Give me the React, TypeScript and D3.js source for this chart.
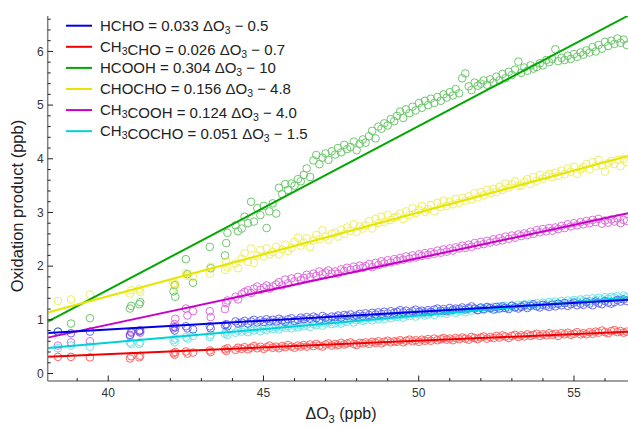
import React from "react";
import * as d3 from "d3";

// ---------- data ----------
const xSparse = [38.38, 38.80, 39.41, 40.70, 40.74, 41.00, 41.03, 42.10, 42.14, 42.16, 42.50, 42.55, 42.73, 43.27, 43.30, 43.76, 43.80, 43.84, 44.10, 44.18];
const xDense = [
  44.30, 44.39, 44.50, 44.60, 44.69, 44.80, 44.90, 45.01, 45.10, 45.19,
  45.30, 45.41, 45.50, 45.60, 45.70, 45.79, 45.90, 46.00, 46.11, 46.20,
  46.30, 46.39, 46.50, 46.61, 46.70, 46.80, 46.90, 47.00, 47.09, 47.20,
  47.31, 47.40, 47.50, 47.60, 47.69, 47.80, 47.91, 48.00, 48.10, 48.20,
  48.29, 48.40, 48.50, 48.61, 48.70, 48.80, 48.89, 49.00, 49.10, 49.21,
  49.30, 49.40, 49.50, 49.59, 49.70, 49.80, 49.90, 50.01, 50.10, 50.20,
  50.30, 50.39, 50.50, 50.60, 50.71, 50.80, 50.90, 51.00, 51.10, 51.19,
  51.30, 51.40, 51.50, 51.61, 51.70, 51.80, 51.90, 52.00, 52.09, 52.20,
  52.30, 52.41, 52.50, 52.60, 52.70, 52.79, 52.90, 53.00, 53.10, 53.21,
  53.30, 53.40, 53.50, 53.60, 53.69, 53.80, 53.90, 54.00, 54.11, 54.20,
  54.30, 54.40, 54.49, 54.60, 54.70, 54.80, 54.90, 55.00, 55.10, 55.21,
  55.30, 55.40, 55.50, 55.60, 55.70, 55.79, 55.90, 56.00, 56.10, 56.20,
  56.30, 56.40, 56.50, 56.60, 56.70,
];
const deltaO3 = [...xSparse, ...xDense];

const hcho = [
  0.78, 0.75, 0.78, 0.72, 0.76, 0.78, 0.80, 0.84, 0.80, 0.86, 0.88, 0.84, 0.82, 0.88, 0.84, 0.90, 0.92, 0.88, 0.97, 0.93,
  0.95, 0.98, 0.93, 0.97, 1.00, 0.95, 0.99, 0.96, 1.01, 0.97,
  1.00, 0.97, 1.02, 0.99, 0.96, 1.01, 1.03, 0.98, 1.00, 1.04,
  1.01, 1.05, 1.02, 1.06, 1.03, 1.00, 1.07, 1.04, 1.02, 1.06,
  1.05, 1.08, 1.04, 1.09, 1.07, 1.10, 1.06, 1.08, 1.11, 1.07,
  1.12, 1.09, 1.13, 1.10, 1.14, 1.11, 1.15, 1.12, 1.16, 1.13,
  1.15, 1.18, 1.14, 1.17, 1.13, 1.16, 1.19, 1.15, 1.17, 1.14,
  1.18, 1.15, 1.19, 1.21, 1.17, 1.20, 1.16, 1.22, 1.19, 1.21,
  1.20, 1.23, 1.19, 1.22, 1.25, 1.21, 1.18, 1.23, 1.20, 1.24,
  1.22, 1.19, 1.24, 1.21, 1.25, 1.22, 1.20, 1.26, 1.23, 1.21,
  1.24, 1.27, 1.22, 1.26, 1.29, 1.25, 1.23, 1.28, 1.26, 1.24,
  1.28, 1.25, 1.30, 1.27, 1.31, 1.26, 1.29, 1.32, 1.27, 1.30,
  1.28, 1.33, 1.30, 1.27, 1.34, 1.31, 1.29, 1.35, 1.32, 1.30,
  1.33, 1.37, 1.34, 1.38, 1.35,
];
const ch3cho = [
  0.31, 0.31, 0.30, 0.28, 0.32, 0.30, 0.33, 0.38, 0.35, 0.40, 0.41, 0.37, 0.39, 0.43, 0.40, 0.45, 0.42, 0.47, 0.44, 0.48,
  0.46, 0.49, 0.45, 0.48, 0.51, 0.47, 0.50, 0.46, 0.49, 0.52,
  0.48, 0.50, 0.47, 0.51, 0.49, 0.53, 0.50, 0.48, 0.52, 0.50,
  0.53, 0.50, 0.54, 0.51, 0.55, 0.52, 0.50, 0.54, 0.56, 0.52,
  0.55, 0.53, 0.57, 0.54, 0.56, 0.58, 0.55, 0.53, 0.57, 0.56,
  0.58, 0.55, 0.59, 0.57, 0.60, 0.56, 0.59, 0.61, 0.58, 0.60,
  0.59, 0.62, 0.58, 0.61, 0.63, 0.60, 0.62, 0.59, 0.63, 0.61,
  0.64, 0.61, 0.65, 0.62, 0.64, 0.66, 0.63, 0.65, 0.62, 0.66,
  0.64, 0.67, 0.65, 0.63, 0.68, 0.66, 0.64, 0.67, 0.69, 0.65,
  0.68, 0.66, 0.70, 0.67, 0.71, 0.69, 0.66, 0.70, 0.72, 0.68,
  0.71, 0.69, 0.73, 0.70, 0.72, 0.74, 0.70, 0.73, 0.71, 0.75,
  0.72, 0.74, 0.70, 0.75, 0.73, 0.76, 0.72, 0.74, 0.77, 0.73,
  0.75, 0.73, 0.77, 0.74, 0.78, 0.76, 0.80, 0.77, 0.75, 0.79,
  0.81, 0.77, 0.79, 0.76, 0.78,
];
const hcooh = [
  0.78, 0.93, 1.03, 1.21, 1.26, 1.29, 1.33, 1.53, 1.65, 1.43, 2.13, 1.85, 1.69, 2.36, 1.96, 2.20, 2.43, 2.62, 2.76, 2.65,
  2.70, 2.92, 2.80, 3.20, 2.83, 3.08, 2.95, 3.12, 2.71, 3.02,
  3.17, 2.98, 3.46, 3.34, 3.53, 3.42, 3.54, 3.50, 3.62, 3.58,
  3.70, 3.82, 3.66, 3.97, 4.07, 3.90, 4.02, 4.10, 3.98, 4.14,
  4.08, 4.20, 4.12, 4.26, 4.18, 4.22, 4.32, 4.16, 4.28, 4.36,
  4.30, 4.42, 4.52, 4.38, 4.60, 4.56, 4.66, 4.62, 4.74, 4.70,
  4.80, 4.88, 4.76, 4.92, 4.85, 4.97, 4.90, 5.04, 4.95, 5.08,
  5.00, 5.12, 5.04, 5.15, 5.08, 5.20, 5.14, 5.24, 5.18, 5.30,
  5.22, 5.50, 5.59, 5.35, 5.28, 5.42, 5.36, 5.40, 5.46, 5.38,
  5.48, 5.42, 5.53, 5.46, 5.58, 5.50, 5.62, 5.56, 5.66, 5.81,
  5.60, 5.70, 5.64, 5.74, 5.68, 5.71, 5.78, 5.74, 5.84, 5.80,
  5.86, 6.04, 5.82, 5.88, 5.84, 5.92, 5.86, 5.95, 5.90, 5.98,
  5.94, 6.02, 5.98, 6.08, 6.00, 6.12, 6.05, 6.18, 6.10, 6.20,
  6.14, 6.24, 6.16, 6.22, 6.12,
];
const chocho = [
  1.35, 1.38, 1.47, 1.49, 1.55, 1.57, 1.52, 1.68, 1.62, 1.66, 1.87, 1.82, 1.80, 1.86, 1.99, 1.93, 2.08, 1.98, 2.05, 1.96,
  2.14, 2.24, 2.08, 2.33, 2.06, 2.20, 2.30, 2.18, 2.33, 2.22,
  2.26, 2.36, 2.22, 2.31, 2.40, 2.28, 2.34, 2.45, 2.53, 2.38,
  2.44, 2.52, 2.35, 2.48, 2.58, 2.50, 2.67, 2.55, 2.49, 2.60,
  2.62, 2.55, 2.68, 2.60, 2.72, 2.66, 2.78, 2.64, 2.74, 2.70,
  2.76, 2.84, 2.70, 2.88, 2.80, 2.92, 2.82, 2.95, 2.86, 2.90,
  2.92, 2.98, 2.88, 3.02, 2.95, 3.08, 2.99, 3.05, 3.12, 3.01,
  3.06, 3.14, 3.02, 3.18, 3.10, 3.22, 3.12, 3.20, 3.15, 3.25,
  3.18, 3.27, 3.22, 3.30, 3.24, 3.36, 3.28, 3.38, 3.32, 3.42,
  3.36, 3.44, 3.38, 3.48, 3.42, 3.54, 3.46, 3.52, 3.58, 3.49,
  3.50, 3.57, 3.62, 3.53, 3.66, 3.59, 3.70, 3.63, 3.68, 3.72,
  3.66, 3.74, 3.68, 3.78, 3.71, 3.82, 3.76, 3.85, 3.72, 3.80,
  3.84, 3.90, 3.80, 3.94, 3.86, 3.98, 3.88, 3.76, 3.92, 3.96,
  3.90, 3.98, 3.86, 4.00, 3.94,
];
const ch3cooh = [
  0.52, 0.58, 0.60, 0.70, 0.78, 0.80, 0.76, 0.87, 0.92, 1.02, 1.21, 1.08, 1.16, 1.16, 1.05, 1.20, 1.31, 1.36, 1.43, 1.38,
  1.48, 1.52, 1.55, 1.50, 1.58, 1.62, 1.56, 1.60, 1.64, 1.58,
  1.62, 1.66, 1.70, 1.64, 1.75, 1.68, 1.77, 1.72, 1.80, 1.74,
  1.78, 1.84, 1.80, 1.86, 1.82, 1.90, 1.85, 1.88, 1.92, 1.86,
  1.90, 1.86, 1.94, 1.91, 1.97, 1.93, 1.99, 1.95, 2.01, 1.97,
  2.00, 2.04, 1.98, 2.06, 2.02, 2.09, 2.05, 2.11, 2.07, 2.13,
  2.10, 2.15, 2.12, 2.18, 2.14, 2.20, 2.16, 2.22, 2.19, 2.24,
  2.21, 2.26, 2.23, 2.29, 2.25, 2.31, 2.27, 2.33, 2.29, 2.35,
  2.33, 2.38, 2.34, 2.40, 2.36, 2.43, 2.39, 2.45, 2.41, 2.47,
  2.44, 2.50, 2.46, 2.52, 2.48, 2.55, 2.51, 2.57, 2.53, 2.59,
  2.56, 2.61, 2.58, 2.64, 2.60, 2.67, 2.63, 2.69, 2.65, 2.71,
  2.66, 2.72, 2.69, 2.75, 2.71, 2.78, 2.74, 2.80, 2.76, 2.82,
  2.78, 2.84, 2.80, 2.86, 2.82, 2.88, 2.79, 2.85, 2.81, 2.87,
  2.83, 2.89, 2.80, 2.86, 2.84,
];
const ch3cocho = [
  0.47, 0.52, 0.50, 0.58, 0.55, 0.55, 0.58, 0.62, 0.58, 0.65, 0.68, 0.65, 0.70, 0.68, 0.72, 0.74, 0.78, 0.72, 0.76, 0.80,
  0.78, 0.81, 0.77, 0.82, 0.80, 0.84, 0.79, 0.83, 0.81, 0.85,
  0.83, 0.86, 0.82, 0.87, 0.85, 0.88, 0.84, 0.89, 0.86, 0.90,
  0.88, 0.91, 0.87, 0.92, 0.90, 0.94, 0.89, 0.93, 0.95, 0.92,
  0.94, 0.97, 0.93, 0.98, 0.96, 1.00, 0.95, 0.99, 1.01, 0.98,
  1.00, 1.03, 0.99, 1.04, 1.01, 1.05, 1.02, 1.06, 1.03, 1.07,
  1.05, 1.08, 1.04, 1.09, 1.07, 1.11, 1.06, 1.10, 1.12, 1.08,
  1.10, 1.13, 1.09, 1.14, 1.12, 1.16, 1.11, 1.15, 1.17, 1.13,
  1.16, 1.19, 1.14, 1.20, 1.17, 1.21, 1.18, 1.22, 1.19, 1.23,
  1.21, 1.24, 1.20, 1.25, 1.22, 1.26, 1.23, 1.27, 1.24, 1.28,
  1.26, 1.29, 1.25, 1.30, 1.27, 1.31, 1.28, 1.32, 1.29, 1.33,
  1.31, 1.34, 1.30, 1.35, 1.32, 1.36, 1.33, 1.37, 1.34, 1.38,
  1.36, 1.39, 1.35, 1.40, 1.37, 1.41, 1.38, 1.42, 1.39, 1.43,
  1.41, 1.44, 1.40, 1.45, 1.42,
];

// legend: species name parts (text, subscript) and equations as printed
const legendNames: [string, string][][] = [
  [["HCHO", ""]],
  [["CH", "3"], ["CHO", ""]],
  [["HCOOH", ""]],
  [["CHOCHO", ""]],
  [["CH", "3"], ["COOH", ""]],
  [["CH", "3"], ["COCHO", ""]],
];
const legendSlopes = ["0.033", "0.026", "0.304", "0.156", "0.124", "0.051"];
const legendIntercepts = ["0.5", "0.7", "10", "4.8", "4.0", "1.5"];
// fitted lines as drawn in the figure
const fitSlope = [0.033, 0.025, 0.305, 0.156, 0.124, 0.0508];
const fitIntercept = [-0.5, -0.64, -10.64, -4.8, -4.05, -1.46];

const seriesValues = [hcho, ch3cho, hcooh, chocho, ch3cooh, ch3cocho];
const lineColors = ["#0000e8", "#f00000", "#00a800", "#e6e600", "#c800c8", "#00d0d8"];
const pointColors = ["#3030f0", "#ff2020", "#30b030", "#e8e820", "#d030d0", "#30d8e0"];

const xTicks = [40, 45, 50, 55];
const yTicks = [0, 1, 2, 3, 4, 5, 6];

const W = 628, H = 428;
const FONT = "'Liberation Sans', Arial, Helvetica, sans-serif";

export default function App() {
  const x = d3.scaleLinear().domain([38.05, 56.74]).range([47.7, 628]);
  const y = d3.scaleLinear().domain([-0.14, 6.66]).range([381, 16]);
  const [x0, x1] = x.domain();
  const minorX = d3.range(38, 57, 1).filter((v) => v >= x0 && v <= x1 && v % 5 !== 0);
  const minorY = d3.range(0, 6.7, 0.2).map((v) => Math.round(v * 10) / 10).filter((v) => Math.abs(v - Math.round(v)) > 1e-6 && v <= 6.66);
  const line = d3.line<[number, number]>().x((d) => x(d[0])).y((d) => y(d[1]));
  const drawOrder = [2, 3, 4, 5, 0, 1];

  return (
    <div style={{ position: "fixed", left: 0, top: 0 }}>
      <svg width={W} height={H} style={{ display: "block", background: "#fff" }} fontFamily={FONT}>
        <defs>
          <clipPath id="plot">
            <rect x={47.7} y={16} width={628 - 47.7} height={381 - 16} />
          </clipPath>
        </defs>
        <g clipPath="url(#plot)">
          {drawOrder.map((s) => (
            <g key={"p" + s} fill="none" stroke={pointColors[s]} strokeWidth={1} opacity={0.7}>
              {seriesValues[s].map((v, i) =>
                i < deltaO3.length ? <circle key={i} cx={x(deltaO3[i])} cy={y(v)} r={3.8} /> : null
              )}
            </g>
          ))}
          {drawOrder.map((s) => (
            <path
              key={"l" + s}
              d={line([
                [x0, fitSlope[s] * x0 + fitIntercept[s]],
                [x1, fitSlope[s] * x1 + fitIntercept[s]],
              ]) || ""}
              fill="none"
              stroke={lineColors[s]}
              strokeWidth={2}
            />
          ))}
        </g>
        {/* axes */}
        <line x1={47.7} x2={628} y1={381} y2={381} stroke="#808080" strokeWidth={1.5} />
        <line x1={47.7} x2={47.7} y1={16} y2={381} stroke="#808080" strokeWidth={1.5} />
        {xTicks.map((t) => (
          <g key={"xt" + t}>
            <line x1={x(t)} x2={x(t)} y1={381} y2={375.5} stroke="#222" strokeWidth={1} />
            <text x={x(t)} y={396.5} textAnchor="middle" fontSize={12} fill="#333">{t}</text>
          </g>
        ))}
        {minorX.map((t) => (
          <line key={"xm" + t} x1={x(t)} x2={x(t)} y1={381} y2={378} stroke="#222" strokeWidth={1} />
        ))}
        {yTicks.map((t) => (
          <g key={"yt" + t}>
            <line x1={47.7} x2={53} y1={y(t)} y2={y(t)} stroke="#222" strokeWidth={1} />
            <text x={43.8} y={y(t) + 4.2} textAnchor="end" fontSize={12} fill="#333">{t}</text>
          </g>
        ))}
        {minorY.map((t) => (
          <line key={"ym" + t} x1={47.7} x2={50.7} y1={y(t)} y2={y(t)} stroke="#222" strokeWidth={1} />
        ))}
        {/* axis titles */}
        <text x={341} y={419} textAnchor="middle" fontSize={16} fill="#222">
          ΔO<tspan fontSize={11} dy={3.5}>3</tspan><tspan dy={-3.5}> (ppb)</tspan>
        </text>
        <text transform="translate(23,206) rotate(-90)" textAnchor="middle" fontSize={16.5} fill="#222">
          Oxidation product (ppb)
        </text>
        {/* legend */}
        {legendNames.map((parts, i) => {
          const cy = 25.7 + i * 21.1;
          return (
            <g key={"lg" + i}>
              <line x1={66} x2={92} y1={cy} y2={cy} stroke={lineColors[i]} strokeWidth={2} />
              <text x={100} y={cy + 5.2} fontSize={15} fill="#222">
                {parts.map(([t, sub], j) => (
                  <React.Fragment key={j}>
                    <tspan>{t}</tspan>
                    {sub ? <tspan fontSize={10.5} dy={3}>{sub}</tspan> : null}
                    {sub ? <tspan dy={-3}></tspan> : null}
                  </React.Fragment>
                ))}
                <tspan>{" = " + legendSlopes[i] + " ΔO"}</tspan>
                <tspan fontSize={10.5} dy={3}>3</tspan>
                <tspan dy={-3}>{" − " + legendIntercepts[i]}</tspan>
              </text>
            </g>
          );
        })}
      </svg>
    </div>
  );
}
